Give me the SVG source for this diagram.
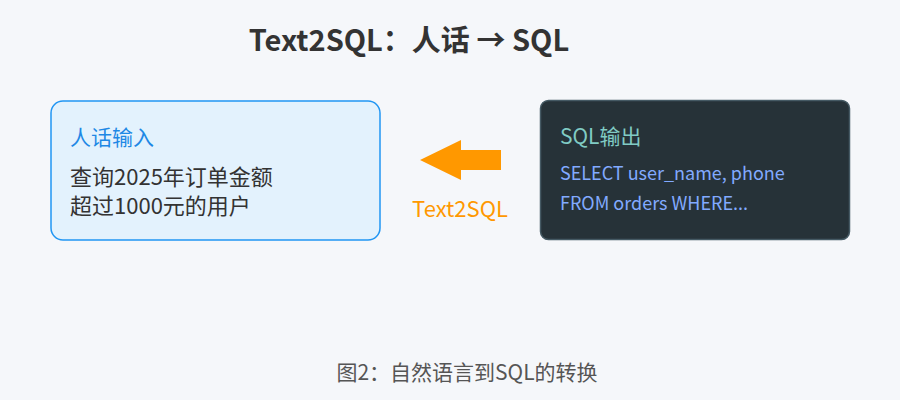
<svg xmlns="http://www.w3.org/2000/svg" width="900" height="400" viewBox="0 0 900 400">
<style>
text{font-family:"Noto Sans CJK SC","Noto Sans",sans-serif}
.title{font-size:29px;font-weight:bold;fill:#333}
.h{font-size:21px}
.body{font-size:22px;fill:#333}
.code{font-size:18px;fill:#82AAFF}
.cap{font-size:21px;fill:#555}
</style>
<rect width="900" height="400" fill="#F5F7FA"/>
<text class="title" x="409" y="51" text-anchor="middle">Text2SQL：人话 → SQL</text>
<g id="input">
<rect x="51" y="101" width="329" height="139" rx="12" fill="#E3F2FD" stroke="#2196F3" stroke-width="1.5"/>
<text class="h" x="70" y="145" fill="#1E88E5">人话输入</text>
<text class="body" x="70" y="185">查询2025年订单金额</text>
<text class="body" x="70" y="214">超过1000元的用户</text>
</g>
<g id="output">
<rect x="540.5" y="100.5" width="309" height="139" rx="8" fill="#263238" stroke="#455A64" stroke-width="1.5"/>
<text class="h" x="560" y="144" fill="#80CBC4">SQL输出</text>
<text class="code" x="560" y="180">SELECT user_name, phone</text>
<text class="code" x="560" y="210">FROM orders WHERE...</text>
</g>
<g id="connectors">
<polygon points="420,160 461,140 461,150 501,150 501,170 461,170 461,180" fill="#FF9800"/>
<text x="460" y="217" text-anchor="middle" font-size="22" fill="#FF9800">Text2SQL</text>
</g>
<text class="cap" x="467" y="380" text-anchor="middle">图2：自然语言到SQL的转换</text>
</svg>
